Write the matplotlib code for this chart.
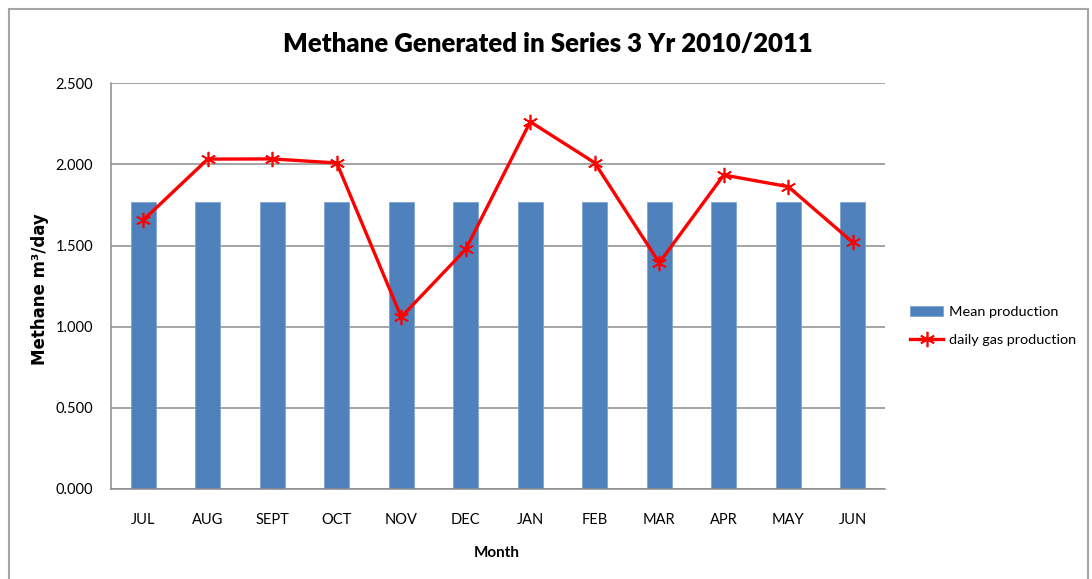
import matplotlib
matplotlib.use("Agg")
import matplotlib.pyplot as plt
from matplotlib.patches import Rectangle
import numpy as np

months = ["JUL", "AUG", "SEPT", "OCT", "NOV", "DEC", "JAN", "FEB", "MAR", "APR", "MAY", "JUN"]
mean_production = [1.767] * 12
daily_gas = [1.657, 2.033, 2.034, 2.009, 1.060, 1.477, 2.263, 2.010, 1.394, 1.935, 1.863, 1.520]
yticks = [0.0, 0.5, 1.0, 1.5, 2.0, 2.5]
ytick_labels = ["0.000", "0.500", "1.000", "1.500", "2.000", "2.500"]

body_font = ["Lato", "DejaVu Sans"]

fig = plt.figure(figsize=(10.92, 5.79), dpi=100)
fig.patch.set_facecolor("white")
fig.patches.append(Rectangle((9 / 1092, -0.05), (1088 - 9) / 1092, 1.05 - 8.5 / 579,
                             transform=fig.transFigure, fill=False,
                             edgecolor="#a6a6a6", linewidth=1.5))

ax = fig.add_axes([111 / 1092, 1 - 489 / 579, (885 - 111) / 1092, (489 - 83.3) / 579])
x = np.arange(len(months))
bars = ax.bar(x, mean_production, width=0.39, color="#4F81BD", edgecolor="#7ea3d4",
              linewidth=0.6, label="Mean production", zorder=2)
line, = ax.plot(x, daily_gas, color="#FF0000", linewidth=2.4, marker=(6, 2, 0),
                markersize=11, markeredgewidth=1.2, markeredgecolor="#FF0000",
                label="daily gas production", zorder=3)

ax.set_xlim(-0.5, len(months) - 0.5)
ax.set_ylim(0, 2.5)
ax.set_yticks(yticks)
ax.set_yticklabels(ytick_labels, fontfamily=body_font, fontsize=10.5)
ax.set_xticks(x)
ax.set_xticklabels(months, fontfamily=body_font, fontsize=10.5)
ax.tick_params(axis="x", length=0, pad=17)
ax.tick_params(axis="y", length=0, pad=13)
ax.yaxis.grid(True, color="#8c8c8c", linewidth=1.1, zorder=0)
ax.set_axisbelow(True)
for s in ["top", "right"]:
    ax.spines[s].set_visible(False)
for s in ["left", "bottom"]:
    ax.spines[s].set_color("#8c8c8c")
    ax.spines[s].set_linewidth(1.1)

fig.text(548 / 1092, 1 - 44 / 579, "Methane Generated in Series 3 Yr 2010/2011",
         ha="center", va="center", fontsize=18.5, fontweight="heavy",
         fontfamily=["Lato", "DejaVu Sans"])
fig.text(40 / 1092, 1 - 289 / 579, "Methane m\u00b3/day", rotation=90,
         ha="center", va="center", fontsize=12, fontweight="bold",
         fontfamily=["DejaVu Sans"])
fig.text(497 / 1092, 1 - 553 / 579, "Month", ha="center", va="center",
         fontsize=11, fontweight="bold", fontfamily=body_font)

leg = fig.legend(handles=[bars, line], labels=["Mean production", "daily gas production"],
                 loc="center left", bbox_to_anchor=(897 / 1092, 1 - 326 / 579),
                 frameon=False, prop={"family": body_font, "size": 10.4},
                 handlelength=2.3, handletextpad=0.4, labelspacing=1.05)

fig.savefig("out.png", dpi=100, facecolor="white")
